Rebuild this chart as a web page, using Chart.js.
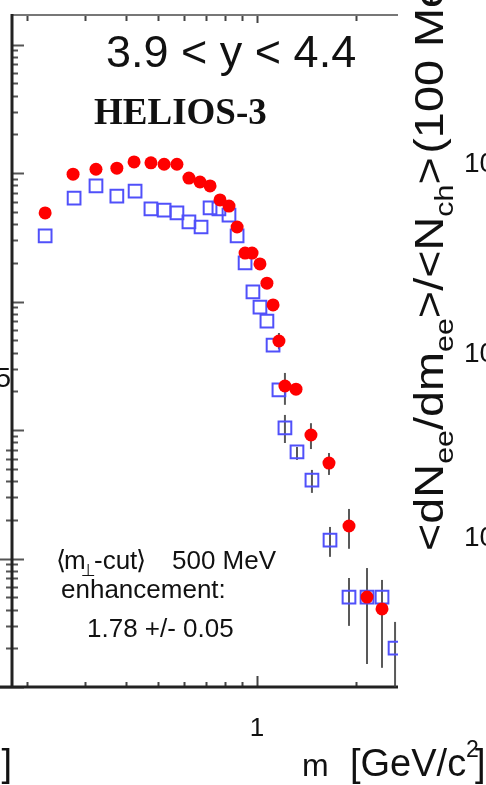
<!DOCTYPE html>
<html>
<head>
<meta charset="utf-8">
<script src="https://cdn.jsdelivr.net/npm/chart.js@4.4.1/dist/chart.umd.min.js"></script>
<style>
  body { margin: 0; background: #fff; }
  canvas { display: block; }
</style>
</head>
<body>
<canvas id="myChart1" width="486" height="785"></canvas>
<script>
// data (pair mass in GeV/c^2, yield per 100 MeV)
const massRed = [0.227, 0.276, 0.324, 0.375, 0.423, 0.476, 0.522, 0.571, 0.621, 0.671, 0.720, 0.772, 0.822, 0.870,
  0.920, 0.966, 1.021, 1.072, 1.119, 1.166, 1.216, 1.314, 1.459, 1.655, 1.904, 2.160, 2.399];
const yieldRed = [4.89e-6, 9.8e-6, 1.07e-5, 1.09e-5, 1.22e-5, 1.20e-5, 1.17e-5, 1.17e-5, 9.14e-6, 8.51e-6, 7.93e-6, 6.17e-6, 5.53e-6, 3.80e-6,
  2.38e-6, 2.38e-6, 1.96e-6, 1.39e-6, 9.40e-7, 4.93e-7, 2.20e-7, 2.08e-7, 9.14e-8, 5.53e-8, 1.79e-8, 5.01e-9, 4.05e-9];
const errHiRed = [null, null, null, null, null, null, null, null, null, null, null, null, null, null,
  null, null, null, null, null, 5.69e-7, 2.78e-7, null, 1.13e-7, 6.62e-8, 2.43e-8, 8.43e-9, 6.81e-9];
const errLoRed = [null, null, null, null, null, null, null, null, null, null, null, null, null, null,
  null, null, null, null, null, 4.26e-7, 1.57e-7, null, 7.11e-8, 4.47e-8, 1.19e-8, 1.51e-9, 1.41e-9];

const massBlue = [0.227, 0.278, 0.324, 0.375, 0.426, 0.476, 0.522, 0.571, 0.621, 0.676, 0.720, 0.766, 0.822, 0.870,
  0.920, 0.972, 1.021, 1.072, 1.119, 1.166, 1.216, 1.323, 1.469, 1.667, 1.904, 2.160, 2.399, 2.628];
const yieldBlue = [3.24e-6, 6.38e-6, 7.93e-6, 6.62e-6, 7.24e-6, 5.25e-6, 5.15e-6, 4.89e-6, 4.16e-6, 3.80e-6, 5.35e-6, 5.25e-6, 4.71e-6, 3.24e-6,
  2.00e-6, 1.19e-6, 9.06e-7, 7.05e-7, 4.58e-7, 2.05e-7, 1.04e-7, 6.75e-8, 4.08e-8, 1.39e-8, 5.01e-9, 5.01e-9, 5.01e-9, 2.01e-9];
const errHiBlue = [null, null, null, null, null, null, null, null, null, null, null, null, null, null,
  null, null, null, null, null, null, 1.31e-7, 7.38e-8, 4.89e-8, 1.76e-8, 7.05e-9, null, null, 3.21e-9];
const errLoBlue = [null, null, null, null, null, null, null, null, null, null, null, null, null, null,
  null, null, null, null, null, null, 7.92e-8, 5.85e-8, 3.24e-8, 1.03e-8, 2.99e-9, null, null, 1.0e-9];

const xMin = 0.18, xMax = 2.683;
const yMin = 1e-9, yMax = 1.697e-4;
const xTickValues = [0.2, 0.3, 0.4, 0.5, 0.6, 0.7, 0.8, 0.9, 1, 2];

function toPoints(xs, ys) {
  return xs.map((x, i) => ({ x: x, y: ys[i] }));
}

// frame, inward ticks and error bars
const framePlugin = {
  id: 'frame',
  beforeDatasetsDraw(chart) {
    const ctx = chart.ctx;
    const xs = chart.scales.x, ys = chart.scales.y;
    const a = chart.chartArea;
    ctx.save();
    ctx.lineCap = 'butt';
    // y ticks
    for (let d = -9; d <= -4; d++) {
      for (let k = 1; k <= 9; k++) {
        const v = k * Math.pow(10, d);
        if (v < yMin || v > yMax) continue;
        const py = Math.round(ys.getPixelForValue(v)) + 0.5;
        const len = k === 1 ? 12 : 6;
        ctx.strokeStyle = '#555';
        ctx.lineWidth = 2;
        ctx.beginPath();
        ctx.moveTo(a.left, py);
        ctx.lineTo(a.left + len, py);
        if (py > 450) {
          ctx.moveTo(a.left, py);
          ctx.lineTo(a.left - (k === 1 ? 12 : 6), py);
        }
        ctx.stroke();
      }
    }
    // x ticks, bottom and top
    xTickValues.forEach(v => {
      const px = Math.round(xs.getPixelForValue(v)) + 0.5;
      const len = v === 1 ? 11 : 5;
      ctx.strokeStyle = '#444';
      ctx.lineWidth = 2;
      ctx.beginPath();
      ctx.moveTo(px, a.bottom);
      ctx.lineTo(px, a.bottom - len);
      ctx.moveTo(px, a.top);
      ctx.lineTo(px, a.top + (v === 1 ? 8 : 6));
      ctx.stroke();
    });
    // frame lines
    ctx.strokeStyle = '#777';
    ctx.lineWidth = 2;
    ctx.beginPath();
    ctx.moveTo(a.left, a.top);
    ctx.lineTo(a.right, a.top);
    ctx.stroke();
    ctx.strokeStyle = '#222';
    ctx.lineWidth = 3;
    ctx.beginPath();
    ctx.moveTo(0, a.bottom);
    ctx.lineTo(a.right, a.bottom);
    ctx.moveTo(a.left, a.top - 1);
    ctx.lineTo(a.left, a.bottom);
    ctx.stroke();
    // error bars
    ctx.strokeStyle = 'rgba(60,60,60,0.85)';
    ctx.lineWidth = 2;
    const bars = [[massRed, errLoRed, errHiRed], [massBlue, errLoBlue, errHiBlue]];
    bars.forEach(b => {
      b[0].forEach((m, i) => {
        if (b[1][i] == null) return;
        const px = xs.getPixelForValue(m);
        ctx.beginPath();
        ctx.moveTo(px, ys.getPixelForValue(b[1][i]));
        ctx.lineTo(px, ys.getPixelForValue(b[2][i]));
        ctx.stroke();
      });
    });
    ctx.restore();
  },
  afterDraw(chart) {
    const ctx = chart.ctx;
    const xs = chart.scales.x;
    const sans = "'Liberation Sans', Arial, 'DejaVu Sans', sans-serif";
    ctx.save();
    ctx.fillStyle = '#111';
    ctx.textBaseline = 'alphabetic';
    ctx.textAlign = 'left';

    ctx.font = '45px ' + sans;
    ctx.fillText('3.9 < y < 4.4', 106, 67);

    ctx.font = "bold 37px 'Liberation Serif', 'Times New Roman', serif";
    ctx.fillText('HELIOS-3', 94, 124);

    // annotation
    ctx.font = "26px 'DejaVu Sans', sans-serif";
    ctx.fillText('\u27E8', 56, 569);
    ctx.fillText('\u27E9', 136, 569);
    ctx.font = '26px ' + sans;
    ctx.fillText('m', 64, 569);
    ctx.fillText('-cut', 94, 569);
    ctx.fillText('500 MeV', 172, 569);
    ctx.fillText('enhancement:', 61, 598);
    ctx.fillText('1.78 +/- 0.05', 87, 637);
    ctx.font = "17px 'DejaVu Sans', sans-serif";
    ctx.fillText('\u22A5', 81, 576);

    // x tick label
    ctx.font = '26px ' + sans;
    ctx.textAlign = 'center';
    ctx.fillText('1', xs.getPixelForValue(1), 736);

    // x axis title
    ctx.textAlign = 'left';
    ctx.font = '32px ' + sans;
    ctx.fillText('m', 302, 776);
    ctx.font = '38px ' + sans;
    ctx.fillText('[GeV/c', 350, 776);
    ctx.font = '23px ' + sans;
    ctx.fillText('2', 466, 757);
    ctx.font = '38px ' + sans;
    ctx.fillText(']', 475, 776);

    // pieces of neighbouring panels
    ctx.textAlign = 'right';
    ctx.font = '28px ' + sans;
    ctx.fillText('5', 11, 387);
    ctx.font = '38px ' + sans;
    ctx.fillText(']', 12, 776);
    ctx.textAlign = 'left';
    ctx.font = '28px ' + sans;
    ['10', '10', '10'].forEach((t, i) => ctx.fillText(t, 464, [172, 362, 546][i]));

    // rotated y title of the next panel
    ctx.save();
    ctx.translate(443, 551);
    ctx.rotate(-Math.PI / 2);
    ctx.scale(1.17, 1);
    const parts = [['<dN', 0], ['ee', 1], ['/dm', 0], ['ee', 1], ['>/<N', 0], ['ch', 1], ['>', 0], ['(100 MeV/c', 0]];
    let pos = 0;
    parts.forEach(p => {
      ctx.font = (p[1] ? '26px ' : '40px ') + sans;
      ctx.fillText(p[0], pos, p[1] ? 10 : 0);
      pos += ctx.measureText(p[0]).width + (p[0] === '>' ? 3 : 0);
    });
    ctx.restore();

    ctx.restore();
  }
};

const data = {
  datasets: [{
    data: toPoints(massRed, yieldRed),
    pointStyle: 'circle',
    pointRadius: 6.5,
    backgroundColor: '#ff0000',
    borderColor: '#ff0000',
    borderWidth: 0,
    showLine: false
  },
  {
    data: toPoints(massBlue, yieldBlue),
    pointStyle: 'rect',
    pointRadius: 9,
    backgroundColor: 'rgba(0,0,0,0)',
    borderColor: 'rgb(80,80,250)',
    borderWidth: 2,
    showLine: false
  }]
};

const config = {
  type: 'scatter',
  data,
  options: {
    responsive: false,
    animation: false,
    layout: { padding: { left: 12, top: 15, right: 88, bottom: 98 } },
    plugins: {
      legend: { display: false },
      tooltip: { enabled: false }
    },
    scales: {
      x: { type: 'logarithmic', min: xMin, max: xMax, display: false },
      y: { type: 'logarithmic', min: yMin, max: yMax, display: false }
    }
  },
  plugins: [framePlugin]
};

const myChart = new Chart(document.getElementById('myChart1'), config);
</script>
</body>
</html>
